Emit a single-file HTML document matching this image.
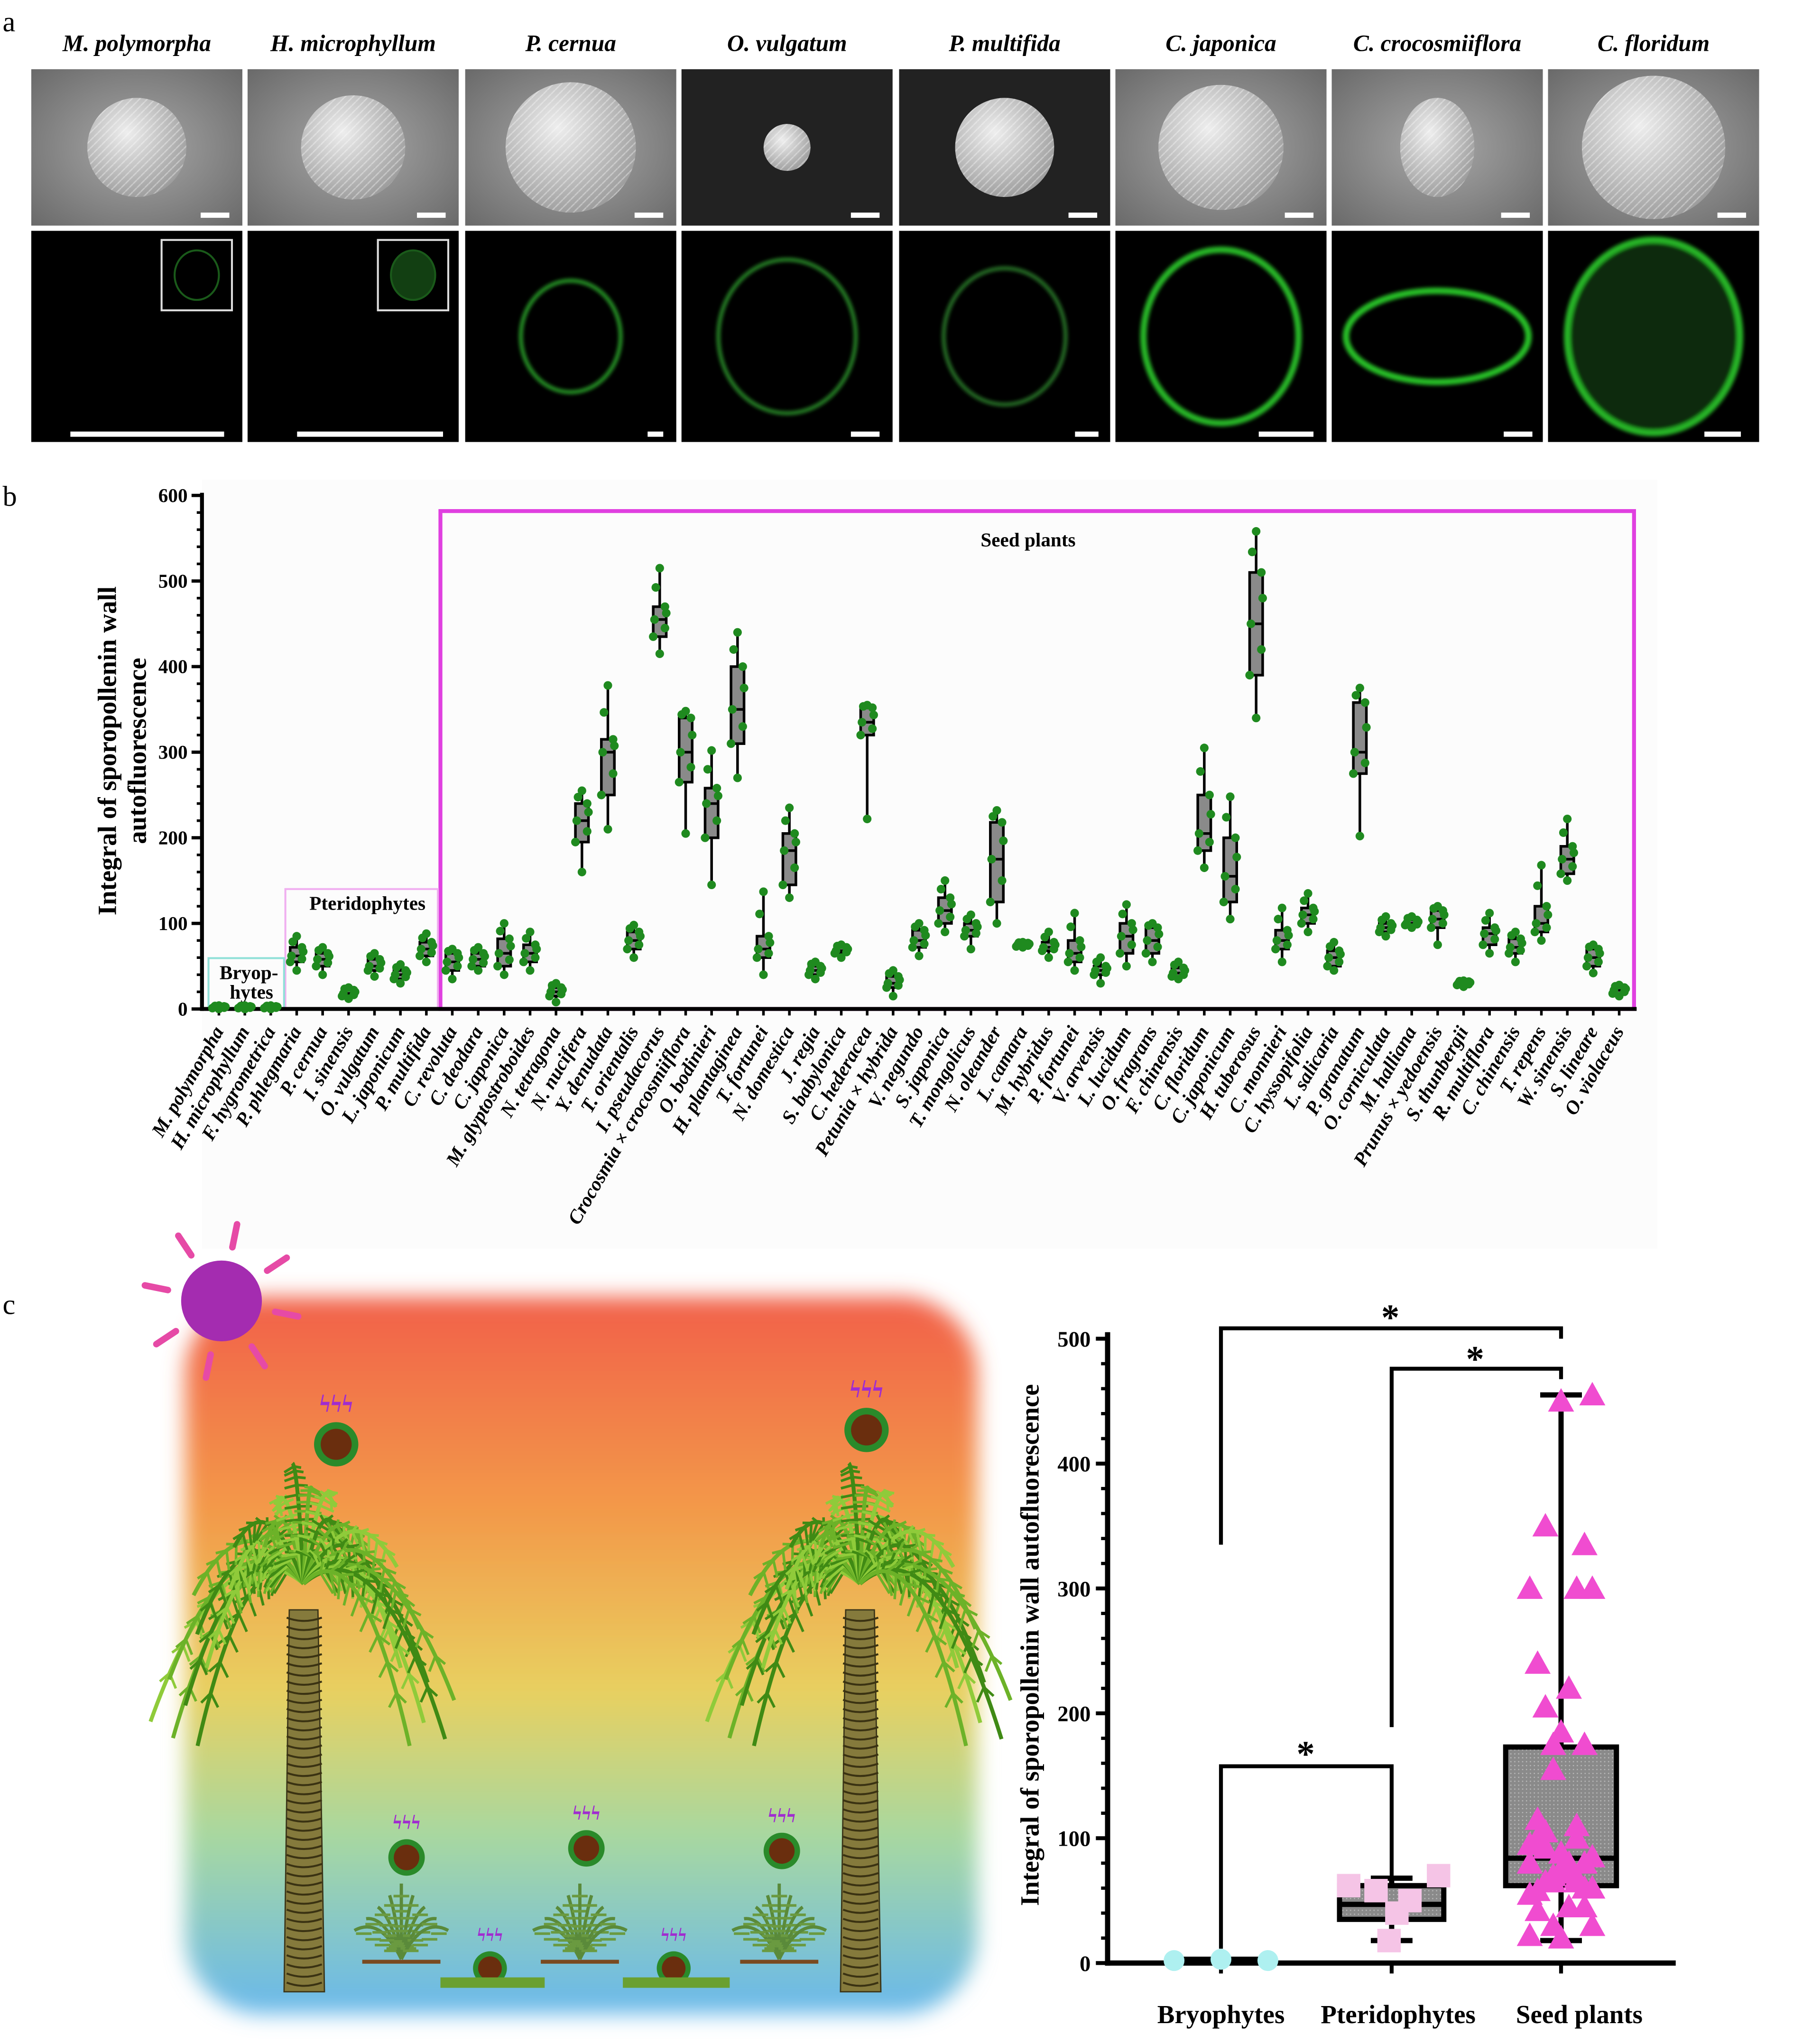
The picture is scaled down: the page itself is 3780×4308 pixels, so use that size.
<!DOCTYPE html>
<html><head><meta charset="utf-8"><style>
html,body{margin:0;padding:0;background:#fff}
svg{display:block}
text{font-family:"Liberation Serif",serif}
</style></head><body>
<svg id="fig" xmlns="http://www.w3.org/2000/svg" width="3780" height="4308" viewBox="0 0 1376 1568">
<defs>
<linearGradient id="bg" x1="0" y1="0" x2="0" y2="1">
<stop offset="0" stop-color="#f2604a"/><stop offset="0.3" stop-color="#f39a4a"/><stop offset="0.55" stop-color="#e8d060"/><stop offset="0.75" stop-color="#a8d8a0"/><stop offset="1" stop-color="#68b8ec"/>
</linearGradient>
<filter id="blur"><feGaussianBlur stdDeviation="8"/></filter>
<filter id="glow"><feGaussianBlur stdDeviation="1.5"/></filter>
<radialGradient id="sem" cx="0.5" cy="0.5" r="0.7"><stop offset="0" stop-color="#a8a8a8"/><stop offset="1" stop-color="#6a6a6a"/></radialGradient>
<radialGradient id="grain" cx="0.4" cy="0.35" r="0.7"><stop offset="0" stop-color="#eee"/><stop offset="1" stop-color="#9a9a9a"/></radialGradient>
<pattern id="tex" width="6" height="6" patternUnits="userSpaceOnUse"><rect width="6" height="6" fill="none"/><path d="M0,3 L3,0 M3,6 L6,3" stroke="#fff" stroke-opacity="0.35" stroke-width="1"/></pattern>
<pattern id="dots" width="3" height="3" patternUnits="userSpaceOnUse"><rect width="3" height="3" fill="#8a8a8a"/><circle cx="1.5" cy="1.5" r="0.5" fill="#bbb"/></pattern>
</defs>
<text x="2" y="24" font-size="22">a</text>
<text x="2" y="388" font-size="22">b</text>
<text x="2" y="1008" font-size="22">c</text>
<g id="pa"></g>
<g id="pb"></g>
<g id="pc"></g>
<g id="pd"></g>
</svg>
<script>
const NS="http://www.w3.org/2000/svg";
function mk(p,tag,at){const e=document.createElementNS(NS,tag);for(const k in at)e.setAttribute(k,at[k]);p.appendChild(e);return e;}

// ---- panel a data ----
const aTitles=["M. polymorpha","H. microphyllum","P. cernua","O. vulgatum","P. multifida","C. japonica","C. crocosmiiflora","C. floridum"];
const aGreen=[0.15,0.2,0.8,0.7,0.6,0.95,1,0.95];

// ---- panel b data ----
const species=["M. polymorpha","H. microphyllum","F. hygrometrica","P. phlegmaria","P. cernua","I. sinensis","O. vulgatum","L. japonicum","P. multifida","C. revoluta","C. deodara","C. japonica","M. glyptostroboides","N. tetragona","N. nucifera","Y. denudata","T. orientalis","I. pseudacorus","Crocosmia × crocosmiiflora","O. bodinieri","H. plantaginea","T. fortunei","N. domestica","J. regia","S. babylonica","C. hederacea","Petunia × hybrida","V. negundo","S. japonica","T. mongolicus","N. oleander","L. camara","M. hybridus","P. fortunei","V. arvensis","L. lucidum","O. fragrans","F. chinensis","C. floridum","C. japonicum","H. tuberosus","C. monnieri","C. hyssopifolia","L. salicaria","P. granatum","O. corniculata","M. halliana","Prunus × yedoensis","S. thunbergii","R. multiflora","C. chinensis","T. repens","W. sinensis","S. lineare","O. violaceus"];
const medians=[2,2,2,62,58,18,50,40,70,55,58,65,65,20,220,300,80,455,300,240,350,70,185,45,68,335,30,80,115,92,175,75,72,65,45,85,80,42,205,155,450,80,110,60,300,95,100,105,30,88,72,100,175,60,22];
const q1s=[1,1,1,55,50,15,45,35,62,45,50,50,55,15,195,250,70,435,265,200,310,60,145,40,65,320,25,72,100,85,125,73,68,55,40,65,65,38,185,125,390,70,100,50,275,90,98,95,28,75,65,90,158,50,18];
const q3s=[3,3,3,72,65,22,58,45,78,65,65,82,75,25,240,315,90,470,340,258,400,85,205,50,72,352,38,92,130,100,218,77,78,80,50,100,95,48,250,200,510,92,118,68,358,100,104,115,32,95,82,120,190,70,25];
const mins=[0,0,0,45,40,12,38,30,55,35,45,40,45,8,160,210,60,415,205,145,270,40,130,35,60,222,15,62,90,70,100,72,60,45,30,50,55,35,165,105,340,55,90,45,202,85,95,75,26,65,55,80,150,42,15];
const maxs=[4,4,4,85,72,25,65,52,88,70,72,100,90,30,255,378,98,515,348,302,440,137,235,55,75,355,45,100,150,110,232,78,90,112,60,122,100,55,305,248,558,118,135,78,375,108,108,120,33,112,90,168,222,75,28];
const bTicks=[0,100,200,300,400,500,600];

// ---- panel c chart data ----
const groups=["Bryophytes","Pteridophytes","Seed plants"];
const bryoVals=[2,3,2];
const pterVals=[62,58,18,50,40,70];
const cTicks=[0,100,200,300,400,500];
const pterBox=[18,35,47,62,68];   // min,q1,med,q3,max
const seedBox=[18,62,84,173,455];

// ===== panel a =====
(function(){
const g=document.getElementById('pa');
const xs=[24,190,357,523,690,856,1022,1188];
aTitles.forEach((t,i)=>{
  const x=xs[i],cx=x+81;
  const tt=mk(g,'text',{x:cx,y:39,'font-size':18,'font-style':'italic','font-weight':'bold','text-anchor':'middle'});tt.textContent=t;
  
  
  const top=mk(g,'rect',{x:x,y:53,width:162,height:120,fill:i==3||i==4?'#222':'url(#sem)'});
  
  
  const r=[38,40,50,18,38,48,38,55][i];
  mk(g,'ellipse',{cx:cx,cy:113,rx:r*(i==6?0.75:1),ry:r,fill:'url(#grain)'});
  mk(g,'ellipse',{cx:cx,cy:113,rx:r*(i==6?0.75:1),ry:r,fill:'url(#tex)'});
  mk(g,'rect',{x:x+130,y:163,width:22,height:4,fill:'#fff'});
  const bot=mk(g,'rect',{x:x,y:177,width:162,height:162,fill:'#000'});
  
  
  const a=aGreen[i];
  if(i<2){mk(g,'rect',{x:x+100,y:184,width:54,height:54,fill:'none',stroke:'#ddd','stroke-width':1.5});
    mk(g,'ellipse',{cx:x+127,cy:211,rx:17,ry:19,fill:i==1?'rgba(40,140,40,0.45)':'none',stroke:'#1a5a1a','stroke-width':1.5});}
  else{const rr=[0,0,45,62,55,70,70,78][i];
    mk(g,'ellipse',{cx:cx,cy:258,rx:rr*(i==6?1:0.85),ry:i==6?rr*0.5:rr*0.95,fill:i==7?'#0a2a0a':'none',stroke:'rgb(40,'+Math.round(190*a)+',40)','stroke-width':i>=5?5:3,filter:'url(#glow)'});}
  mk(g,'rect',{x:x+[30,38,140,130,135,110,132,120][i],y:331,width:[118,112,12,22,18,42,22,28][i],height:4,fill:'#fff'});
});
})();

// ===== panel b =====
(function(){
const g=document.getElementById('pb');
const X0=155,Y0=774,H=394,x0=168,dx=19.9;
const ys=v=>Y0-v/600*H, xc=i=>x0+i*dx;
mk(g,'rect',{x:155,y:368,width:1117,height:590,fill:'#fcfcfc'});
const sp=mk(g,'rect',{x:338,y:392,width:916,height:382,fill:'none',stroke:'#e040e0','stroke-width':3});


const pt=mk(g,'rect',{x:219,y:682,width:117,height:92,fill:'none',stroke:'#f0b0f0','stroke-width':1.5});


const br=mk(g,'rect',{x:160,y:735,width:58,height:39,fill:'none',stroke:'#90e0d8','stroke-width':1.5});


let t=mk(g,'text',{x:789,y:419,'font-size':15,'font-weight':'bold','text-anchor':'middle'});t.textContent='Seed plants';

t=mk(g,'text',{x:282,y:698,'font-size':15,'font-weight':'bold','text-anchor':'middle'});t.textContent='Pteridophytes';

t=mk(g,'text',{x:191,y:751,'font-size':15,'font-weight':'bold','text-anchor':'middle'});t.textContent='Bryop-';

t=mk(g,'text',{x:193,y:766,'font-size':15,'font-weight':'bold','text-anchor':'middle'});t.textContent='hytes';
mk(g,'line',{x1:X0,y1:378,x2:X0,y2:Y0+1.5,stroke:'#000','stroke-width':3});
mk(g,'line',{x1:X0-1.5,y1:Y0,x2:1256,y2:Y0,stroke:'#000','stroke-width':3});
bTicks.forEach(v=>{mk(g,'line',{x1:X0-8,y1:ys(v),x2:X0,y2:ys(v),stroke:'#000','stroke-width':2.5});
  const tx=mk(g,'text',{x:X0-11,y:ys(v)+5,'font-size':15,'font-weight':'bold','text-anchor':'end'});tx.textContent=v;
  });
for(let v=20;v<600;v+=20){if(v%100)mk(g,'line',{x1:X0-4,y1:ys(v),x2:X0,y2:ys(v),stroke:'#000','stroke-width':2});}
t=mk(g,'text',{transform:'translate(89,576) rotate(-90)','font-size':20,'font-weight':'bold','text-anchor':'middle'});t.textContent='Integral of sporopollenin wall';

t=mk(g,'text',{transform:'translate(112,576) rotate(-90)','font-size':20,'font-weight':'bold','text-anchor':'middle'});t.textContent='autofluorescence';
species.forEach((s,i)=>{
  const x=xc(i);
  mk(g,'line',{x1:x,y1:Y0,x2:x,y2:Y0+5,stroke:'#000','stroke-width':2});
  const lb=mk(g,'text',{transform:'translate('+(x+4)+','+(Y0+17)+') rotate(-60)','font-size':15,'font-style':'italic','font-weight':'bold','text-anchor':'end'});lb.textContent=s;
  
  
  const bx=mk(g,'g',{});
  
  
  mk(bx,'line',{x1:x,y1:ys(maxs[i]),x2:x,y2:ys(mins[i]),stroke:'#000','stroke-width':2});
  mk(bx,'rect',{x:x-5,y:ys(q3s[i]),width:10,height:Math.max(1,ys(q1s[i])-ys(q3s[i])),fill:'#8a8a8a',stroke:'#000','stroke-width':2});
  mk(bx,'line',{x1:x-5,y1:ys(medians[i]),x2:x+5,y2:ys(medians[i]),stroke:'#000','stroke-width':2});
  const pts=[mins[i],q1s[i],(q1s[i]+medians[i])/2,medians[i],(medians[i]+q3s[i])/2,q3s[i],maxs[i],(q3s[i]+maxs[i])/2];
  const off=[0,-5,4,-4,5,4,0,-3];
  pts.forEach((v,k)=>{const c=mk(bx,'circle',{cx:x+off[k],cy:ys(v),r:3.3,fill:'#1f8a1f'});
    });
});
})();

// ===== panel c illustration =====
(function(){
const g=document.getElementById('pc');
const bgr=mk(g,'rect',{x:142,y:995,width:608,height:550,rx:60,fill:'url(#bg)',filter:'url(#blur)'});

const sun=mk(g,'g',{});
for(let k=0;k<8;k++){const a=k*Math.PI/4+0.2;mk(sun,'line',{x1:170+Math.cos(a)*42,y1:998+Math.sin(a)*42,x2:170+Math.cos(a)*60,y2:998+Math.sin(a)*60,stroke:'#e64aa6','stroke-width':5,'stroke-linecap':'round'});}
mk(sun,'circle',{cx:170,cy:998,r:31,fill:'#a42cb0'});
function palm(cx,cy,base,name){
  const p=mk(g,'g',{});
  mk(p,'path',{d:`M${cx-15},${base} L${cx-11},${cy+20} L${cx+11},${cy+20} L${cx+16},${base} Z`,fill:'#857a3c',stroke:'#3a3418','stroke-width':1});
  for(let y=cy+26;y<base;y+=7){mk(p,'path',{d:`M${cx-13},${y} Q${cx},${y+5} ${cx+14},${y}`,fill:'none',stroke:'#3a3212','stroke-width':1.5});}
  const n=26;
  for(let k=0;k<n;k++){
    const a=-Math.PI-0.25+k*(Math.PI+0.5)/(n-1);
    const side=Math.cos(a);
    const L=80+((k*7)%5)*8;
    const ex=cx+side*L*1.05, ey=cy+Math.sin(a)*L*0.9+Math.abs(side)*110;
    const qx=cx+side*L*0.55, qy=cy-70+Math.abs(side)*20+Math.sin(a)*20;
    const col=k%3==0?'#3f8a14':(k%3==1?'#6cb228':'#8fcb3a');
    mk(p,'path',{d:`M${cx},${cy} Q${qx},${qy} ${ex},${ey}`,fill:'none',stroke:col,'stroke-width':3});
    for(let s=0.15;s<0.95;s+=0.09){
      const px=(1-s)*(1-s)*cx+2*(1-s)*s*qx+s*s*ex, py=(1-s)*(1-s)*cy+2*(1-s)*s*qy+s*s*ey;
      const tx=2*(1-s)*(qx-cx)+2*s*(ex-qx), ty=2*(1-s)*(qy-cy)+2*s*(ey-qy);
      const ln=Math.hypot(tx,ty)||1, l=14*(1-s*0.6);
      mk(p,'line',{x1:px,y1:py,x2:px+(-ty/ln+tx/ln*0.5)*l,y2:py+(tx/ln+ty/ln*0.5)*l+6,stroke:col,'stroke-width':2});
      mk(p,'line',{x1:px,y1:py,x2:px+(ty/ln+tx/ln*0.5)*l,y2:py+(-tx/ln+ty/ln*0.5)*l+6,stroke:col,'stroke-width':2});
    }
  }
}
palm(233,1215,1528,'palm-tree-left');
palm(660,1215,1528,'palm-tree-right');
function spore(x,y,r,name){const s=mk(g,'g',{});
  mk(s,'circle',{cx:x,cy:y,r:r,fill:'#2a8a2a'});mk(s,'circle',{cx:x,cy:y,r:r*0.7,fill:'#6a2e0e'});
  const l=mk(s,'text',{x:x,y:y-r-8,'font-size':r*1.1,fill:'#a02cd0','text-anchor':'middle','font-weight':'bold'});l.textContent='ϟϟϟ';}
spore(258,1108,17,'spore-seed-left');spore(665,1097,17,'spore-seed-right');
spore(312,1425,14,'spore-fern-1');spore(450,1418,14,'spore-fern-2');spore(600,1420,14,'spore-fern-3');
spore(376,1510,13,'spore-moss-1');spore(517,1510,13,'spore-moss-2');
[[308,'fern-1'],[445,'fern-2'],[598,'fern-3']].forEach(([x,n])=>{const f=mk(g,'g',{});
  for(let k=-4;k<=4;k++){const ex=x+k*9, ey=1445+Math.abs(k)*9;
    mk(f,'path',{d:`M${x},1503 Q${x+k*4},1470 ${ex},${ey}`,fill:'none',stroke:'#5a8a3a','stroke-width':2.5});
    for(let j=1;j<5;j++){const py=1503-(1503-ey)*j/5, px=x+(ex-x)*j/5; mk(f,'line',{x1:px-6,y1:py-2,x2:px+6,y2:py-2,stroke:'#6a9a40','stroke-width':2});}}
  mk(f,'line',{x1:x-30,y1:1505,x2:x+30,y2:1505,stroke:'#7a4a20','stroke-width':3});});
[[338,418,'moss-1'],[478,560,'moss-2']].forEach(([a,b,n])=>{const m=mk(g,'rect',{x:a,y:1517,width:b-a,height:8,fill:'#6aa030'});});
})();

// ===== panel c chart =====
(function(){
const g=document.getElementById('pd');
const X0=850,Y0=1506,ys=v=>Y0-v*0.958,gx=[937,1068,1198];
mk(g,'line',{x1:X0,y1:1022,x2:X0,y2:Y0+2,stroke:'#000','stroke-width':4});
mk(g,'line',{x1:X0-2,y1:Y0,x2:1286,y2:Y0,stroke:'#000','stroke-width':4});
cTicks.forEach(v=>{mk(g,'line',{x1:X0-9,y1:ys(v),x2:X0,y2:ys(v),stroke:'#000','stroke-width':3});
  const t=mk(g,'text',{x:X0-13,y:ys(v)+6,'font-size':17,'font-weight':'bold','text-anchor':'end'});t.textContent=v;
  });
for(let v=20;v<500;v+=20)if(v%100)mk(g,'line',{x1:X0-5,y1:ys(v),x2:X0,y2:ys(v),stroke:'#000','stroke-width':2.5});
let t=mk(g,'text',{transform:'translate(797,1262) rotate(-90)','font-size':20,'font-weight':'bold','text-anchor':'middle'});t.textContent='Integral of sporopollenin wall autofluorescence';

groups.forEach((n,i)=>{mk(g,'line',{x1:gx[i],y1:Y0,x2:gx[i],y2:Y0+8,stroke:'#000','stroke-width':3});
  const l=mk(g,'text',{x:gx[i]+[0,5,14][i],y:1552,'font-size':20,'font-weight':'bold','text-anchor':'middle'});l.textContent=n;
  });
function box(x,b,w,name){const bg=mk(g,'g',{});
  mk(bg,'line',{x1:x,y1:ys(b[0]),x2:x,y2:ys(b[4]),stroke:'#000','stroke-width':4});
  mk(bg,'line',{x1:x-16,y1:ys(b[0]),x2:x+16,y2:ys(b[0]),stroke:'#000','stroke-width':4});
  mk(bg,'line',{x1:x-16,y1:ys(b[4]),x2:x+16,y2:ys(b[4]),stroke:'#000','stroke-width':4});
  mk(bg,'rect',{x:x-w/2,y:ys(b[3]),width:w,height:ys(b[1])-ys(b[3]),fill:'url(#dots)',stroke:'#000','stroke-width':4});
  mk(bg,'line',{x1:x-w/2,y1:ys(b[2]),x2:x+w/2,y2:ys(b[2]),stroke:'#000','stroke-width':4});}
mk(g,'line',{x1:gx[0]-34,y1:ys(2),x2:gx[0]+34,y2:ys(2),stroke:'#000','stroke-width':6});
box(gx[1],pterBox,80,'pteridophytes-box');
box(gx[2],seedBox,85,'seed-plants-box');
bryoVals.forEach((v,i)=>{const c=mk(g,'circle',{cx:gx[0]+(i-1)*36,cy:ys(v),r:8,fill:'#aef0f0'});
  });
const po=[-33,-12,-2,14,4,36];
pterVals.forEach((v,i)=>{const r=mk(g,'rect',{x:gx[1]+po[i]-9,y:ys(v)-9,width:18,height:18,fill:'#f5c4e6'});
  });
const seed=medians.slice(9);
seed.forEach((v,i)=>{const x=gx[2]+((i*37)%9-4)*6;const y=ys(v);
  const p=mk(g,'path',{d:`M${x},${y-10} L${x+10},${y+8} L${x-10},${y+8} Z`,fill:'#f04cd0'});
  });
function brk(x1,x2,y,l1,l2,sx,sy,name){const b=mk(g,'g',{});
  mk(b,'path',{d:`M${x1},${l1} L${x1},${y} L${x2},${y} L${x2},${l2}`,fill:'none',stroke:'#000','stroke-width':3});
  const s=mk(b,'text',{x:sx,y:sy,'font-size':28,'font-weight':'bold','text-anchor':'middle'});s.textContent='*';}
brk(gx[0],gx[2],1019,1185,1027,1067,1020,'significance-bryo-seed');
brk(gx[1],gx[2],1050,1325,1058,1132,1052,'significance-pter-seed');
brk(gx[0],gx[1],1355,1495,1440,1002,1355,'significance-bryo-pter');
})();
</script>
</body></html>
